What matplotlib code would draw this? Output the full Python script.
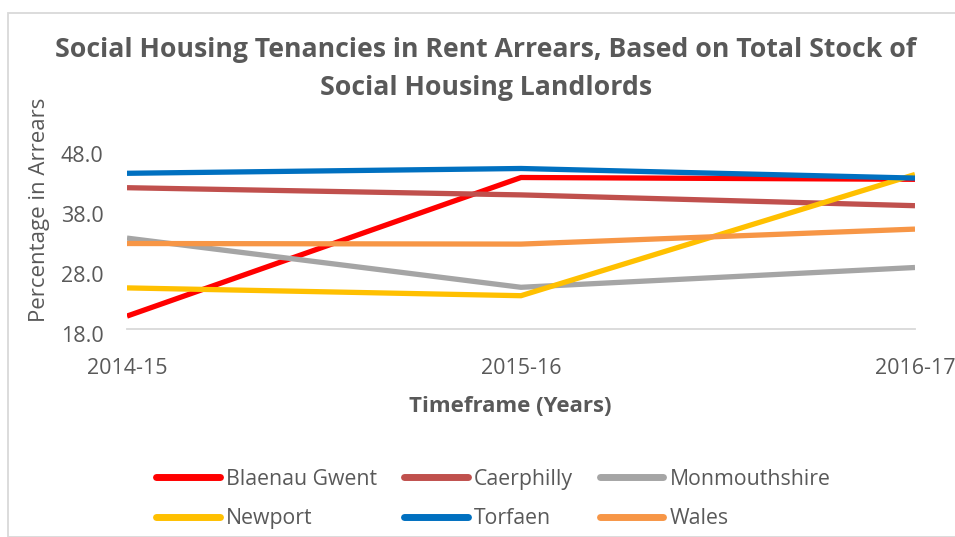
import matplotlib
matplotlib.use("Agg")
import matplotlib.pyplot as plt
import matplotlib.transforms as mtransforms
from matplotlib.patches import Rectangle

years = ["2014-15", "2015-16", "2016-17"]
series_names = ["Blaenau Gwent", "Caerphilly", "Monmouthshire", "Newport", "Torfaen", "Wales"]
blaenau_gwent = [20.2, 43.3, 43.0]
caerphilly = [41.6, 40.4, 38.6]
monmouthshire = [33.2, 25.0, 28.3]
newport = [24.9, 23.6, 43.8]
torfaen = [44.0, 44.8, 43.2]
wales = [32.3, 32.2, 34.7]
series_values = [blaenau_gwent, caerphilly, monmouthshire, newport, torfaen, wales]
colors = ["#FF0000", "#C0504D", "#A5A5A5", "#FFC000", "#0070C0", "#F79646"]
y_ticks = [18.0, 28.0, 38.0, 48.0]

plt.rcParams['font.family'] = ['Open Sans', 'DejaVu Sans']
TXT = "#595959"

W, H = 955, 537
fig = plt.figure(figsize=(W / 100, H / 100), dpi=100)
fig.patch.set_facecolor("white")

# chart border
fig.patches.append(Rectangle((8 / W, 0), (W + 10) / W, (H - 13) / H, transform=fig.transFigure,
                             fill=False, edgecolor="#D9D9D9", linewidth=1.3, zorder=0))

left, right, top, bottom = 127, 915, 149.3, 329.3
ax = fig.add_axes([left / W, 1 - bottom / H, (right - left) / W, (bottom - top) / H])

x = list(range(len(years)))
for i, (name, vals, c) in enumerate(zip(series_names, series_values, colors)):
    ax.plot(x, vals, color=c, linewidth=3.8, label=name, solid_joinstyle="round",
            solid_capstyle="butt", zorder=2 + i)

ax.set_xlim(0, 2)
ax.set_ylim(18, 48)
ax.set_yticks(y_ticks)
ax.set_yticklabels([f"{v:.1f}" for v in y_ticks])
ax.set_xticks(x)
ax.set_xticklabels(years)

for s in ["top", "right", "left"]:
    ax.spines[s].set_visible(False)
ax.spines["bottom"].set_color("#D9D9D9")
ax.spines["bottom"].set_linewidth(1.3)
ax.spines["bottom"].set_zorder(1)
ax.tick_params(axis="both", length=0, labelsize=15.5, labelcolor=TXT)
ax.tick_params(axis="y", pad=17)
ax.tick_params(axis="x", pad=21)

offset = mtransforms.ScaledTranslation(0, -5 / 100, fig.dpi_scale_trans)
for lbl in ax.get_yticklabels():
    lbl.set_transform(lbl.get_transform() + offset)

# title
fig.text(486 / W, 1 - 50 / H, "Social Housing Tenancies in Rent Arrears, Based on Total Stock of",
         ha="center", va="center", fontsize=19.2, fontweight="bold", color=TXT)
fig.text(486 / W, 1 - 88 / H, "Social Housing Landlords",
         ha="center", va="center", fontsize=19.2, fontweight="bold", color=TXT)

# axis titles
fig.text(40 / W, 1 - 210 / H, "Percentage in Arrears", rotation=90, ha="center", va="center",
         fontsize=16, color=TXT)
fig.text(510 / W, 1 - 407 / H, "Timeframe (Years)", ha="center", va="center",
         fontsize=16, fontweight="bold", color=TXT)

handles, labels = ax.get_legend_handles_labels()
order = [0, 3, 1, 4, 2, 5]  # row-wise fill for 3 columns
handles = [handles[i] for i in order]
labels = [labels[i] for i in order]
leg = fig.legend(handles, labels, ncol=3, loc="center left",
                 bbox_to_anchor=(156 / W, 1 - 499 / H), frameon=False,
                 fontsize=15.3, labelcolor=TXT, handlelength=3.0, handletextpad=0.3,
                 columnspacing=1.25, labelspacing=0.88, borderaxespad=0, borderpad=0)
for h in leg.get_lines():
    h.set_linewidth(5)
    h.set_solid_capstyle("round")

fig.savefig("out.png", dpi=100)
